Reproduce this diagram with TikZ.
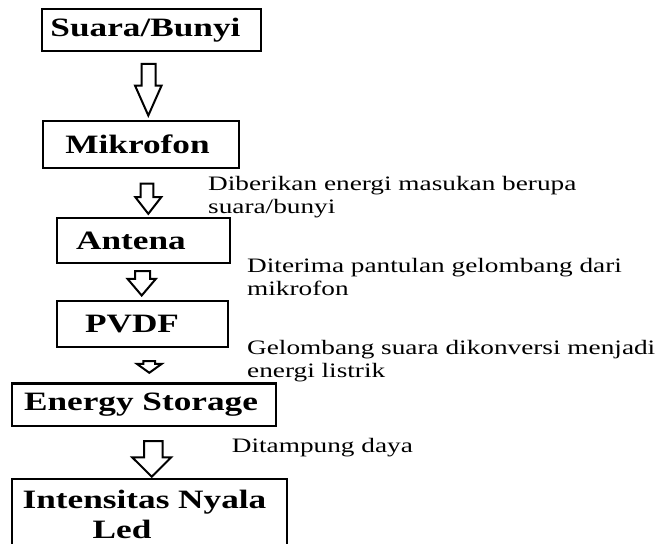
\documentclass[tikz,border=0pt]{standalone}
\usepackage{fontspec}
\setmainfont{Liberation Serif}[FakeStretch=1.33]
\usetikzlibrary{calc}
\tikzset{
  box/.style={draw, line width=2.4pt, inner sep=0pt, font=\fontsize{26.5}{30}\selectfont\bfseries},
  desc/.style={anchor=base west, inner sep=0pt, align=left, font=\fontsize{20.5}{22.6}\selectfont},
  blockarr/.style={draw, line width=2pt, fill=white, line join=miter}
}
% #1 from, #2 to, #3 start xshift, #4 gap, #5 end xshift, #6 tip gap, #7 shaft half, #8 head half, #9 head length
\newcommand\blockarrow[9]{%
  \draw[blockarr] let \p1=([xshift=#3pt,yshift=-#4pt]#1.south),
                      \p2=([xshift=#5pt,yshift=#6pt]#2.north) in
    (\x1-#7pt,\y1) -- (\x1+#7pt,\y1) -- (\x1+#7pt,\y2+#9pt) -- (\x2+#8pt,\y2+#9pt)
    -- (\x2,\y2) -- (\x2-#8pt,\y2+#9pt) -- (\x1-#7pt,\y2+#9pt) -- cycle;}
\begin{document}
\begin{tikzpicture}[x=1pt,y=-1pt]
\useasboundingbox (0,0) rectangle (657,544);
\clip (0,0) rectangle (657,544);
\node[box, minimum width=219pt, minimum height=42pt] (b1) at (151.5,30) {Suara/Bunyi\hspace*{12pt}};
\node[box, minimum width=196pt, minimum height=47pt] (b2) at (141,144.5) {Mikrofon\hspace*{7pt}};
\node[box, minimum width=173pt, minimum height=45pt] (b3) at (143.5,240.5) {Antena\hspace*{25pt}};
\node[box, minimum width=171pt, minimum height=46pt] (b4) at (142.5,324) {PVDF\hspace*{21pt}};
\node[box, minimum width=264pt, minimum height=42.5pt] (b5) at (144,404.75) {Energy Storage\hspace*{6pt}};
\node[box, minimum width=275pt, anchor=north, inner ysep=11pt, text depth=30pt, align=left] (b6) at (149.5,478)
  {Intensitas Nyala\hspace*{10pt}\\\hspace*{70pt}Led};

\blockarrow{b1}{b2}{-3}{11.7}{7.3}{4.3}{7}{13.3}{30}
\blockarrow{b2}{b3}{6}{14.3}{4.8}{3}{6.3}{13}{16.7}
\blockarrow{b3}{b4}{-1}{7}{-0.8}{4.3}{7.5}{14.2}{16.7}
\blockarrow{b4}{b5}{6.7}{13}{5.3}{9.5}{5.8}{12.5}{9}
\blockarrow{b5}{b6}{9.3}{14}{2.2}{1.3}{9.3}{19.5}{19.4}

\node[desc] (t1) at (208,213.3) {Diberikan energi masukan berupa\\suara/bunyi};
\node[desc] (t2) at (247,295) {Diterima pantulan gelombang dari\\mikrofon};
\node[desc] (t3) at (247,377) {Gelombang suara dikonversi menjadi\\energi listrik};
\node[desc] (t4) at (231.7,452.7) {Ditampung daya};
\end{tikzpicture}
\end{document}
